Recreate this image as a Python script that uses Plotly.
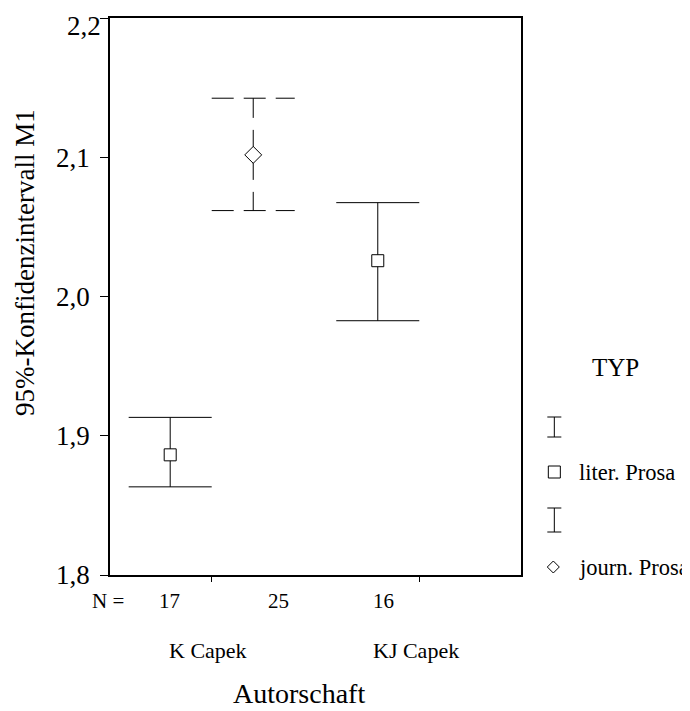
import plotly.graph_objects as go

# ---- data ----
categories = ["K Capek", "KJ Capek"]
types = ["liter. Prosa", "journ. Prosa"]
group_cat = ["K Capek", "K Capek", "KJ Capek"]
group_typ = ["liter. Prosa", "journ. Prosa", "liter. Prosa"]
means = [1.8863, 2.1017, 2.0257]
ci_low = [1.8633, 2.0617, 1.9826]
ci_high = [1.9132, 2.1424, 2.0674]
n_values = [17, 25, 16]
y_ticks = [1.8, 1.9, 2.0, 2.1, 2.2]
y_ticktext = [f"{v:.1f}".replace(".", ",") for v in y_ticks]

# ---- layout constants (reference pixel coordinates; page body adds an 8px offset) ----
OFF = 8
W, H = 690 - OFF, 711 - OFF
L, R, T, B = 110, 520.7, 18, 575
XR = [-0.49, 1.49]
YR = [1.8, 2.2]
FONT = "Liberation Serif"
offset = {"liter. Prosa": -0.2, "journ. Prosa": 0.2}
symbol = {"liter. Prosa": "square", "journ. Prosa": "diamond"}
msize = {"liter. Prosa": 12, "journ. Prosa": 13}
cap_half = 0.2


def px(xp):
    return (xp - L) / (R - L)


def py(yp):
    return (B - yp) / (B - T)


def xd(x):
    return (x - XR[0]) / (XR[1] - XR[0])


def ann(x, y, text, size, xanchor="center", yanchor="middle", **kw):
    return dict(x=x, y=y, xref="paper", yref="paper", text=text, showarrow=False,
                xanchor=xanchor, yanchor=yanchor,
                font=dict(family=FONT, size=size, color="black"), **kw)


fig = go.Figure()

for cat, typ, m, lo, hi in zip(group_cat, group_typ, means, ci_low, ci_high):
    x = categories.index(cat) + offset[typ]
    dashed = typ == "journ. Prosa"
    if dashed:
        fig.add_trace(go.Scatter(x=[x, x], y=[m, hi], mode="lines",
                                 line=dict(color="black", width=1, dash="25px,12px"),
                                 showlegend=False, hoverinfo="skip"))
        fig.add_trace(go.Scatter(x=[x, x], y=[m, lo], mode="lines",
                                 line=dict(color="black", width=1, dash="25px,12px"),
                                 showlegend=False, hoverinfo="skip"))
    else:
        fig.add_trace(go.Scatter(x=[x, x], y=[lo, hi], mode="lines",
                                 line=dict(color="black", width=1),
                                 showlegend=False, hoverinfo="skip"))
    fig.add_trace(go.Scatter(x=[x - cap_half, x + cap_half, None, x - cap_half, x + cap_half],
                             y=[hi, hi, None, lo, lo], mode="lines",
                             line=dict(color="black", width=1,
                                       dash="22px,10px" if dashed else "solid"),
                             showlegend=False, hoverinfo="skip"))
    fig.add_trace(go.Scatter(x=[x], y=[m], mode="markers",
                             marker=dict(symbol=symbol[typ], size=msize[typ], color="white",
                                         line=dict(color="black", width=1)),
                             showlegend=False, name=typ))

annotations = []
# top tick label sits slightly lower/right in the reference
annotations.append(ann(px(84), py(9), y_ticktext[-1], 27, yanchor="top"))
# N labels
n_pos_px = [169, 278, 383]
annotations.append(ann(px(108), py(601), "N =", 21))
for n, xp in zip(n_values, n_pos_px):
    annotations.append(ann(px(xp), py(601), str(n), 21))
# category labels
for i, c in enumerate(categories):
    annotations.append(ann(xd(i) - 0.008, py(650), c, 22))
# axis titles
annotations.append(ann(px(299), py(710.5), "Autorschaft", 28, yanchor="bottom"))
annotations.append(ann(px(25), py(262), "95%-Konfidenzintervall M1", 27, textangle=-90))
# legend
annotations.append(ann(px(615), py(367), "TYP", 25))
for t, yp in zip(types, [472, 567]):
    annotations.append(ann(px(577), py(yp), t, 22.5, xanchor="left"))

shapes = []
for top, bot in [(417, 437), (508, 532)]:
    for (x0, y0, x1, y1) in [(554, top, 554, bot), (547, top, 561, top), (547, bot, 561, bot)]:
        shapes.append(dict(type="line", xref="paper", yref="paper",
                           x0=px(x0), y0=py(y0), x1=px(x1), y1=py(y1),
                           line=dict(color="black", width=1)))
shapes.append(dict(type="rect", xref="paper", yref="paper",
                   x0=px(548), y0=py(466), x1=px(560), y1=py(478),
                   line=dict(color="black", width=1)))
dpath = "M {a},{b} L {c},{d} L {a},{e} L {f},{d} Z".format(
    a=px(553), b=py(561), c=px(559), d=py(567), e=py(573), f=px(547))
shapes.append(dict(type="path", xref="paper", yref="paper", path=dpath,
                   line=dict(color="black", width=1)))

fig.update_layout(
    width=W, height=H,
    margin=dict(l=L - OFF, r=690 - R, t=T - OFF, b=711 - B, pad=0, autoexpand=False),
    paper_bgcolor="white", plot_bgcolor="white",
    showlegend=False,
    annotations=annotations,
    shapes=shapes,
    xaxis=dict(range=XR, tickvals=[0, 1], showticklabels=False, ticks="outside",
               ticklen=5, tickcolor="black", showline=True, linecolor="black",
               linewidth=1.5, mirror=True, showgrid=False, zeroline=False,
               fixedrange=True, automargin=False),
    yaxis=dict(range=YR, tickvals=y_ticks, ticktext=y_ticktext[:-1] + [""],
               ticks="outside",
               ticklen=8, tickcolor="black", showline=True, linecolor="black",
               linewidth=1.5, mirror=True, showgrid=False, zeroline=False,
               tickfont=dict(family=FONT, size=27, color="black"),
               ticklabelstandoff=5, ticklabeloverflow="allow",
               fixedrange=True, automargin=False),
)

fig.write_html("out.html")
